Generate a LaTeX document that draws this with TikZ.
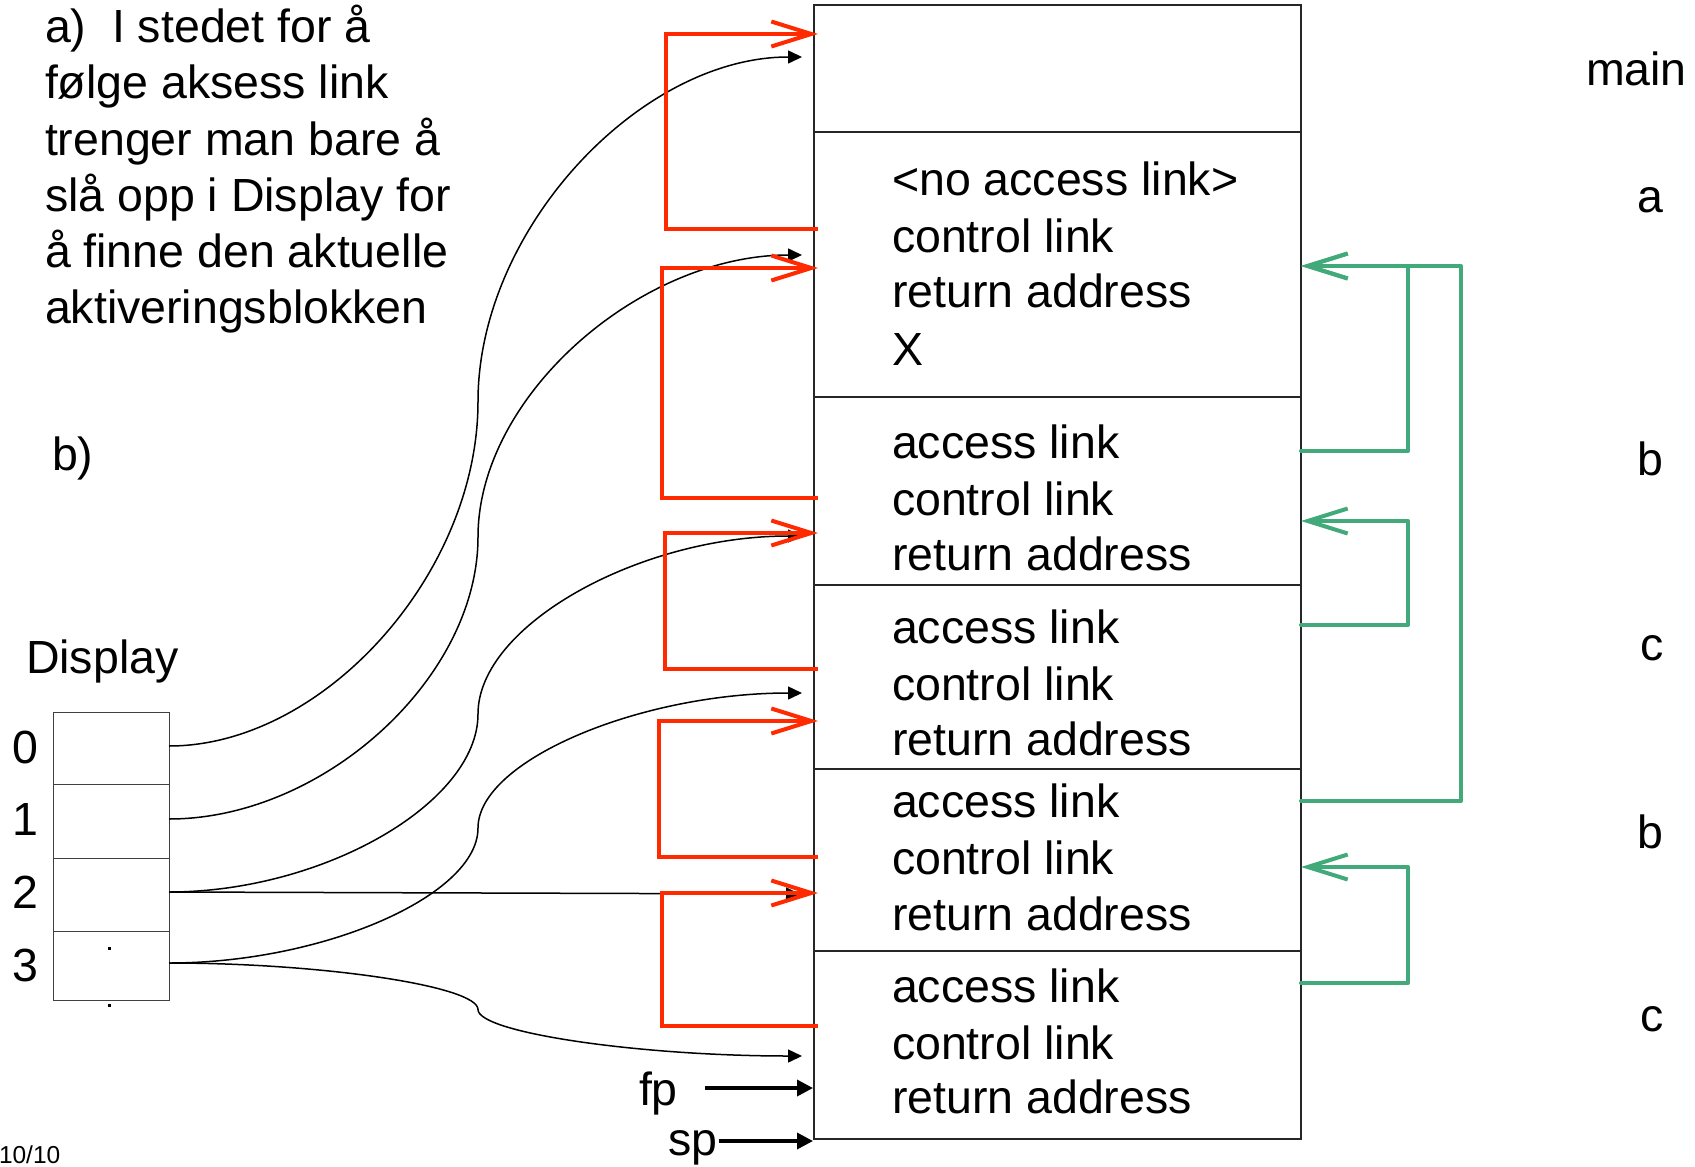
\documentclass[tikz,border=0pt]{standalone}
\usepackage{fontspec}
\setmainfont{Liberation Sans}
\usetikzlibrary{arrows.meta}
\definecolor{linkred}{RGB}{255,42,0}
\definecolor{linkgreen}{RGB}{66,170,122}
\begin{document}
\begin{tikzpicture}[x=1pt,y=-1pt,
  txt/.style={font=\fontsize{46.5}{56}\selectfont, inner sep=0pt, outer sep=0pt, anchor=base west},
  ctxt/.style={txt, anchor=base},
  small/.style={font=\fontsize{24.5}{28}\selectfont, inner sep=0pt, outer sep=0pt, anchor=base west},
  block/.style={draw=black!85, line width=1.3pt, minimum width=487pt, inner sep=0pt, outer sep=0pt},
  cell/.style={draw=black!75, line width=1pt, minimum width=116pt, inner sep=0pt, outer sep=0pt},
  blk/.style={draw=black, line width=1.5pt, -{Triangle[length=14pt,width=13pt]}},
  ptr/.style={draw=black, line width=3.5pt, -{Triangle[length=16pt,width=16pt]}},
  redarr/.style={draw=linkred, line width=4pt, -{Straight Barb[length=40pt,width=25pt]}},
  redline/.style={draw=linkred, line width=4pt},
  grnarr/.style={draw=linkgreen, line width=4pt, line join=round, line cap=round, -{Straight Barb[length=40pt,width=25pt]}}
]
\fill[white] (0,0) rectangle (1695,1167);
\useasboundingbox (0,0) rectangle (1695,1167);

% ---------- left text ----------
\node[txt] (ta1) at (45,42)  {a)\ \ I stedet for å};
\node[txt] (ta2) at (45,98)  {følge aksess link};
\node[txt] (ta3) at (45,155) {trenger man bare å};
\node[txt] (ta4) at (45,211) {slå opp i Display for};
\node[txt] (ta5) at (45,267) {å finne den aktuelle};
\node[txt] (ta6) at (45,323) {aktiveringsblokken};
\node[txt] (tb)  at (52,470) {b)};
\node[txt] (tdisp) at (26,673) {Display};

% ---------- display ----------
\node[cell, minimum height=72pt] (d0) at (111,748) {};
\node[cell, minimum height=74pt] (d1) at (111,821) {};
\node[cell, minimum height=73pt] (d2) at (111,894.5) {};
\node[cell, minimum height=69pt] (d3) at (111,965.5) {};
\node[ctxt] (n0) at (25,763) {0};
\node[ctxt] (n1) at (25,835) {1};
\node[ctxt] (n2) at (25,908) {2};
\node[ctxt] (n3) at (25,981) {3};
\fill (107.5,946.5) rectangle (110.5,949.5);
\fill (107.5,1003.5) rectangle (110.5,1006.5);

% ---------- stack ----------
\node[block, minimum height=127pt] (s1) at (1057.5,68.5) {};
\node[block, minimum height=265pt] (s2) at (1057.5,264.5) {};
\node[block, minimum height=188pt] (s3) at (1057.5,491) {};
\node[block, minimum height=184pt] (s4) at (1057.5,677) {};
\node[block, minimum height=182pt] (s5) at (1057.5,860) {};
\node[block, minimum height=188pt] (s6) at (1057.5,1045) {};

\node[txt] (s2a) at (892,195) {<no access link>};
\node[txt] (s2b) at (892,252) {control link};
\node[txt] (s2c) at (892,307) {return address};
\node[txt] (s2d) at (892,365) {X};

\node[txt] (s3a) at (892,458) {access link};
\node[txt] (s3b) at (892,515) {control link};
\node[txt] (s3c) at (892,570) {return address};

\node[txt] (s4a) at (892,643) {access link};
\node[txt] (s4b) at (892,700) {control link};
\node[txt] (s4c) at (892,755) {return address};

\node[txt] (s5a) at (892,817) {access link};
\node[txt] (s5b) at (892,874) {control link};
\node[txt] (s5c) at (892,930) {return address};

\node[txt] (s6a) at (892,1002) {access link};
\node[txt] (s6b) at (892,1059) {control link};
\node[txt] (s6c) at (892,1113) {return address};

% ---------- right labels ----------
\node[txt]  (lmain) at (1586,85) {main};
\node[ctxt] (la)  at (1650,212) {a};
\node[ctxt] (lb1) at (1650,475) {b};
\node[ctxt] (lc1) at (1652,660) {c};
\node[ctxt] (lb2) at (1650,848) {b};
\node[ctxt] (lc2) at (1652,1031) {c};

% ---------- fp / sp ----------
\node[txt] (fp) at (639,1105) {fp};
\node[txt] (sp) at (668,1155) {sp};
\coordinate (fpe) at (813,1088);
\coordinate (spe) at (813,1141);
\draw[ptr] (705,1088) -- (fpe);
\draw[ptr] (sp.east |- spe) ++(2,0) -- (spe);

\node[small] (pg) at (-1,1163) {10/10};

% ---------- black display pointers ----------
\coordinate (t1) at (802,57);
\coordinate (t2) at (802,255);
\coordinate (t3) at (802,536);
\coordinate (t4) at (802,693);
\coordinate (t5) at (800,894);
\coordinate (t6) at (802,1056);
\draw[blk] ([yshift=2pt]d0.east) .. controls (323.5,746) and (478,573.75) .. (478,401.5)
  .. controls (478,229.25) and (640,57) .. (t1);
\draw[blk] ([yshift=2pt]d1.east) .. controls (323.5,819) and (478,678) .. (478,537)
  .. controls (478,396) and (640,255) .. (t2);
\draw[blk] ([yshift=2.5pt]d2.east) .. controls (323.5,892) and (478,803) .. (478,714)
  .. controls (478,625) and (640,536) .. (t3);
\draw[blk] ([yshift=2.5pt]d3.east) .. controls (323.5,963) and (478,895.5) .. (478,828)
  .. controls (478,760.5) and (640,693) .. (t4);
\draw[blk] ([yshift=2.5pt]d2.east) -- (t5);
\draw[blk] ([yshift=2.5pt]d3.east) .. controls (323.5,963) and (478,986.25) .. (478,1009.5)
  .. controls (478,1032.75) and (640,1056) .. (t6);

% ---------- red control links ----------
\coordinate (r1s) at (818,229);  \coordinate (r1e) at (818,34);
\coordinate (r2s) at (818,498);  \coordinate (r2e) at (818,268);
\coordinate (r3s) at (818,669);  \coordinate (r3e) at (818,533);
\coordinate (r4s) at (818,857);  \coordinate (r4e) at (818,721);
\coordinate (r5s) at (818,1026); \coordinate (r5e) at (818,893);
\draw[redarr] (r1s) -| (666,34) -- (r1e);
\draw[redarr] (r2s) -| (662,268) -- (r2e);
\draw[redarr] (r3s) -| (665,533) -- (r3e);
\draw[redarr] (r4s) -| (659,721) -- (r4e);
\draw[redarr] (r5s) -| (662,893) -- (r5e);

% ---------- green access links ----------
\coordinate (g1s) at (1301,451);  \coordinate (g1e) at (1301,266);
\coordinate (g1o) at (1301,801);
\coordinate (g2s) at (1301,625);  \coordinate (g2e) at (1301,521);
\coordinate (g3s) at (1301,983);  \coordinate (g3e) at (1301,867);
\draw[grnarr] (g1o) -| (1461,266) -- (g1e);
\draw[grnarr] (g1s) -| (1408,266) -- (g1e);
\draw[grnarr] (g2s) -| (1408,521) -- (g2e);
\draw[grnarr] (g3s) -| (1408,867) -- (g3e);
\end{tikzpicture}
\end{document}
